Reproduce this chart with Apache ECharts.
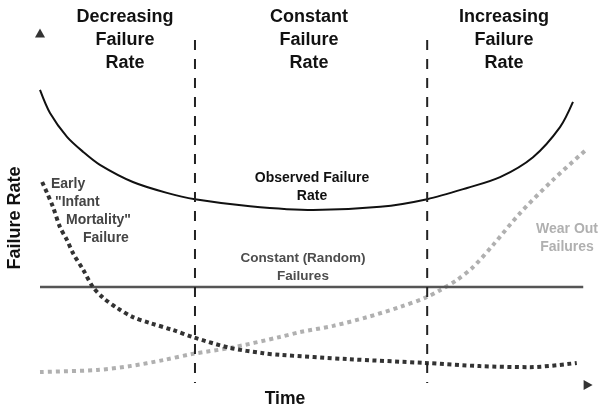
<!DOCTYPE html>
<html>
<head>
<meta charset="utf-8">
<script src="https://cdn.jsdelivr.net/npm/echarts@6/dist/echarts.min.js"></script>
<style>html,body{margin:0;padding:0;background:#fff}#c{width:601px;height:408px}</style>
</head>
<body>
<div id="c"></div>
<script>
// ---- data (time 0..100, failure rate 0..100, arbitrary units) ----
var phaseLabels = ['Decreasing\nFailure\nRate', 'Constant\nFailure\nRate', 'Increasing\nFailure\nRate'];
var phaseBoundaries = [28.7, 71.7];

var observedTime = [0, 1.85, 5, 8, 11.1, 17.2, 23.5, 28.7, 38.9, 50.6, 63, 71.7, 79.1, 85.2, 91.3, 96.3, 98.7];
var observedRate = [84.3, 77.7, 70.9, 66.6, 62.9, 58, 54.9, 53.1, 51.1, 50, 50.9, 53.1, 56.3, 59.4, 65.1, 73.7, 80.9];

var infantTime = [0.4, 1.3, 2.4, 3.7, 5, 6.1, 8, 9.8, 11.7, 14.3, 17.2, 20.4, 24.6, 28.3, 35.2, 41.3, 44.4, 56.9, 71.3, 81.5, 90.7, 99.4];
var infantRate = [58, 54.9, 50.9, 45.1, 41.4, 37.7, 32.9, 28, 24.9, 22, 19.4, 17.7, 15.7, 13.7, 10.6, 9.1, 8.6, 7.4, 6.3, 5.4, 5.1, 6.3];

var wearTime = [0, 10.6, 16.7, 22.8, 28.3, 35.2, 44.4, 48.1, 54.3, 60.6, 66.7, 71.3, 74.1, 77.2, 80.2, 83.9, 88.9, 95, 100.9];
var wearRate = [3.7, 4.3, 5.4, 7.1, 8.9, 10.6, 13.7, 15.1, 16.9, 19.4, 22.3, 24.9, 27.1, 30, 33.7, 40, 49.1, 58.6, 66.9];

var constantTime = [0, 100.6];
var constantRate = [28, 28];

var boundaryTop = 98.6, boundaryBottom = 0.6;
var seriesLabels = {
  observed: 'Observed Failure\nRate',
  constant: 'Constant (Random)\nFailures',
  infant: ['Early', '"Infant', 'Mortality"', 'Failure'],
  wear: 'Wear Out\nFailures'
};
var axisNames = { x: 'Time', y: 'Failure Rate' };

function zip(a, b) { return a.map(function (v, i) { return [v, b[i]]; }); }

var FONT = '"Liberation Sans", Arial, sans-serif';
var chart = echarts.init(document.getElementById('c'), null, { renderer: 'canvas' });

var series = [
  { type: 'line', data: zip(observedTime, observedRate), smooth: 0.3, symbol: 'none',
    lineStyle: { color: '#111', width: 2 }, z: 5 },
  { type: 'line', data: zip(constantTime, constantRate), symbol: 'none',
    lineStyle: { color: '#555', width: 2.5 }, z: 3 },
  { type: 'line', data: zip(infantTime, infantRate), smooth: 0.3, symbol: 'none',
    lineStyle: { color: '#333', width: 4, type: [4, 3.5], cap: 'butt' }, z: 4 },
  { type: 'line', data: zip(wearTime, wearRate), smooth: 0.3, symbol: 'none',
    lineStyle: { color: '#b0b0b0', width: 4, type: [4, 4], cap: 'butt' }, z: 2 }
];
phaseBoundaries.forEach(function (b) {
  series.push({ type: 'line', data: [[b, boundaryTop], [b, boundaryBottom]], symbol: 'none',
    lineStyle: { color: '#222', width: 2, type: [10, 9], cap: 'butt' }, z: 6 });
});
// axis arrowheads
series.push({ type: 'scatter', clip: false, data: [[0, 100.6]], symbol: 'triangle', symbolSize: [10, 9],
  itemStyle: { color: '#000' }, z: 7 });
series.push({ type: 'scatter', clip: false, data: [[101.5, 0]], symbol: 'triangle', symbolSize: [10, 9], symbolRotate: -90,
  itemStyle: { color: '#000' }, z: 7 });

function txt(text, x, y, size, color, align, lh) {
  return { type: 'text', x: x, y: y, silent: true,
    style: { text: text, fill: color, font: 'bold ' + size + 'px ' + FONT, textAlign: align || 'center',
      textVerticalAlign: 'top', lineHeight: lh || size + 4 } };
}

var graphics = [
  txt(phaseLabels[0], 125, 6, 18, '#111', 'center', 23),
  txt(phaseLabels[1], 309, 6, 18, '#111', 'center', 23),
  txt(phaseLabels[2], 504, 6, 18, '#111', 'center', 23),
  txt(seriesLabels.observed, 312, 169, 14, '#111', 'center', 18),
  txt(seriesLabels.constant, 303, 249, 13.5, '#4d4d4d', 'center', 18),
  txt(seriesLabels.wear, 567, 220, 14, '#b0b0b0', 'center', 18),
  txt(seriesLabels.infant[0], 51, 175, 14, '#444', 'left', 18),
  txt(seriesLabels.infant[1], 55, 193, 14, '#444', 'left', 18),
  txt(seriesLabels.infant[2], 66, 211, 14, '#444', 'left', 18),
  txt(seriesLabels.infant[3], 83, 229, 14, '#444', 'left', 18),
  txt(axisNames.x, 285, 389, 17.5, '#111', 'center', 20),
  { type: 'text', x: 15, y: 218, rotation: Math.PI / 2, silent: true,
    style: { text: axisNames.y, fill: '#111', font: 'bold 18px ' + FONT, textAlign: 'center', textVerticalAlign: 'middle' } }
];

chart.setOption({
  animation: false,
  backgroundColor: '#fff',
  grid: { left: 40, right: 10.2, top: 28, bottom: 23 },
  xAxis: { type: 'value', min: 0, max: 102, show: false },
  yAxis: { type: 'value', min: 0, max: 102, show: false },
  series: series,
  graphic: graphics
});
</script>
</body>
</html>
